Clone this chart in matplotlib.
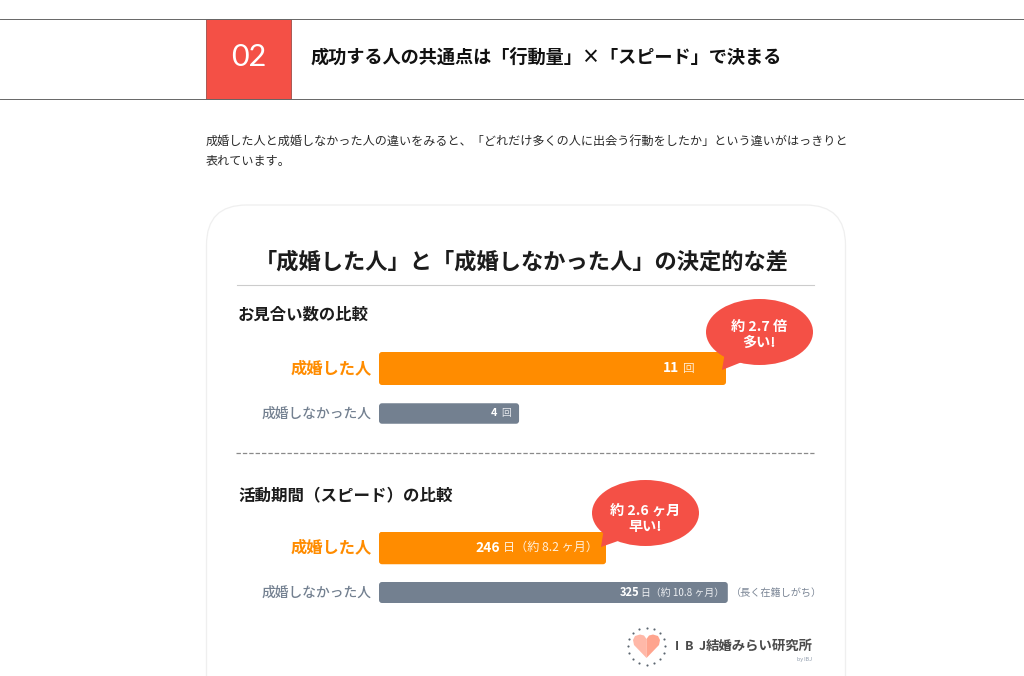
import numpy as np
import matplotlib
matplotlib.use("Agg")
import matplotlib.pyplot as plt
from matplotlib.patches import FancyBboxPatch, Ellipse, Polygon, Rectangle

plt.rcParams['font.family'] = ['Noto Sans CJK JP', 'DejaVu Sans']

W, H = 1024, 676
ORANGE = '#FF8C00'
SLATE = '#738090'
RED = '#F45046'
INK = '#1c1c1c'

categories = ['成婚した人', '成婚しなかった人']
# bar lengths as drawn in the picture (the source's bars are not strictly proportional to their labels)
meet_lengths = [11, 4.44]
days_lengths = [246, 378]
meet_bold = ['11', '4']
meet_rest = ['回', '回']
days_bold = ['246', '325']
days_rest = ['日（約 8.2 ヶ月）', '日（約 10.8 ヶ月）']
heading = '成功する人の共通点は「行動量」×「スピード」で決まる'
body_lines = ['成婚した人と成婚しなかった人の違いをみると、「どれだけ多くの人に出会う行動をしたか」という違いがはっきりと',
              '表れています。']
card_title = '「成婚した人」と「成婚しなかった人」の決定的な差'
logo_kana = '結婚みらい研究所'

fig = plt.figure(figsize=(W / 100, H / 100), dpi=100, facecolor='white')
ov = fig.add_axes([0, 0, 1, 1], zorder=1)
ov.set_xlim(0, W); ov.set_ylim(H, 0); ov.axis('off')
top = fig.add_axes([0, 0, 1, 1], zorder=5)
top.set_xlim(0, W); top.set_ylim(H, 0); top.axis('off'); top.patch.set_alpha(0)

# header band
ov.plot([0, W], [18.5, 18.5], color='#666666', lw=0.7)
ov.plot([0, W], [98.5, 98.5], color='#666666', lw=0.7)
ov.add_patch(Rectangle((206, 19), 85, 79.5, fc=RED, ec='#8a3a34', lw=0.5))
ov.text(248.5, 57.5, '02', color='white', fontsize=22, family='Lato', weight='regular', ha='center', va='center')
ov.text(311, 57.5, heading, color='#111111', fontsize=13.1, weight='bold', ha='left', va='center')
ov.text(206, 141, body_lines[0], color='#2a2a2a', fontsize=8.7, ha='left', va='center')
ov.text(206, 162, body_lines[1], color='#2a2a2a', fontsize=8.7, ha='left', va='center')

# card
ov.add_patch(FancyBboxPatch((206.5, 205), 639, 520, boxstyle='round,pad=0,rounding_size=40',
                            fc='white', ec='#efefef', lw=0.9))
ov.text(522, 262.5, card_title, color=INK, fontsize=16.0, weight='bold', ha='center', va='center')
ov.plot([237, 814], [284.5, 284.5], color='#cccccc', lw=0.8)
ov.plot([236, 814], [452.5, 452.5], color='#8a8a8a', lw=0.9, dashes=(3.5, 1.6))
ov.text(238, 315, 'お見合い数の比較', color=INK, fontsize=11.8, weight='bold', ha='left', va='center')
ov.text(238, 495, '活動期間（スピード）の比較', color=INK, fontsize=11.9, weight='bold', ha='left', va='center')


def panel(values, px_per_unit, y_top, y_mid, h0, h1):
    """One bar panel: its own axes and scale, placed in pixel terms."""
    step = y_mid[1] - y_mid[0]
    x0, x1 = 379, 830
    y_bot = y_mid[1] + h1 / 2
    ax = fig.add_axes([x0 / W, 1 - y_bot / H, (x1 - x0) / W, (y_bot - y_top) / H], zorder=2)
    ax.set_xlim(0, (x1 - x0) / px_per_unit)
    ax.set_ylim((y_bot - y_mid[0]) / step, (y_top - y_mid[0]) / step)
    ax.axis('off')
    bars = ax.barh(range(len(values)), values, height=[h0 / step, h1 / step], color='none')
    for b, col in zip(bars, [ORANGE, SLATE]):
        b.set_visible(False)
        r = 3.0 / px_per_unit
        ax.add_patch(FancyBboxPatch((b.get_x(), b.get_y()), b.get_width(), b.get_height(),
                                    boxstyle=f'round,pad=0,rounding_size={r}',
                                    mutation_aspect=(1 / step) / (1 / px_per_unit),
                                    fc=col, ec='none'))
    return ax


panel(meet_lengths, 347 / 11, 352, (368.5, 413.5), 33, 20.5)
panel(days_lengths, 227 / 246, 532, (548, 592.5), 32.5, 21)

# row labels
for y0, y1 in [(368, 413.5), (547, 593)]:
    ov.text(372, y0, categories[0], color=ORANGE, fontsize=11.7, weight='bold', ha='right', va='center')
    ov.text(372, y1, categories[1], color=SLATE, fontsize=9.9, weight='medium', ha='right', va='center')

# value labels
top.text(679.5, 368.5, meet_bold[0], color='white', fontsize=10, weight='bold', ha='right', va='center')
top.text(682, 368.5, meet_rest[0], color='#ffe9cc', fontsize=8.4, ha='left', va='center')
top.text(497.5, 413, meet_bold[1], color='white', fontsize=7.8, weight='bold', ha='right', va='center')
top.text(501, 413, meet_rest[1], color='#e8eaee', fontsize=7, ha='left', va='center')
top.text(500.5, 547.5, days_bold[0], color='white', fontsize=10, weight='bold', ha='right', va='center')
top.text(503, 547.5, days_rest[0], color='#fff0dc', fontsize=8.7, ha='left', va='center')
top.text(639, 593, days_bold[1], color='white', fontsize=8, weight='bold', ha='right', va='center')
top.text(641, 593, days_rest[1], color='#eef0f3', fontsize=7.1, ha='left', va='center')
ov.text(731, 593, '（長く在籍しがち）', color='#7a8595', fontsize=7.3, ha='left', va='center')

# speech bubbles
top.add_patch(Ellipse((759.5, 332), 107, 66, fc=RED, ec='none'))
top.add_patch(Polygon([(722, 370), (725, 352), (742, 362)], fc=RED, ec='none'))
top.text(759.5, 327, '約 2.7 倍', color='white', fontsize=10.2, weight='bold', ha='center', va='center')
top.text(759.5, 343, '多い!', color='white', fontsize=10.2, weight='bold', ha='center', va='center')
top.add_patch(Ellipse((645.5, 513), 107, 66, fc=RED, ec='none'))
top.add_patch(Polygon([(601, 547), (604, 528), (618, 541)], fc=RED, ec='none'))
top.text(645.5, 510, '約 2.6 ヶ月', color='white', fontsize=10.2, weight='bold', ha='center', va='center')
top.text(645.5, 526.5, '早い!', color='white', fontsize=10.2, weight='bold', ha='center', va='center')

# logo
cx, cy = 646.5, 646
ov.add_patch(Polygon([(646.5, 658), (634, 645), (633, 640), (635, 636), (640, 634.5), (644, 635.5), (646.5, 639)],
                     fc='#FFB8A8', ec='none'))
ov.add_patch(Polygon([(646.5, 658), (659, 645), (660, 640), (658, 636), (653, 634.5), (649, 635.5), (646.5, 639)],
                     fc='#FFA48E', ec='none'))
ang = np.deg2rad(np.arange(0, 360, 22.5))
ov.scatter(cx + 18.5 * np.cos(ang), cy + 18.5 * np.sin(ang), s=2.4, color='#5c6670', lw=0)
for x, ch in zip([677, 689, 702], 'IBJ'):
    ov.text(x, 646, ch, color='#4a4a4a', fontsize=9, weight='bold', ha='center', va='center')
ov.text(813, 646, logo_kana, color='#4a4a4a', fontsize=9.6, weight='bold', ha='right', va='center')
ov.text(812, 659, 'by IBJ', color='#8a97a8', fontsize=3.8, ha='right', va='center')

fig.savefig('out.png', dpi=100)
